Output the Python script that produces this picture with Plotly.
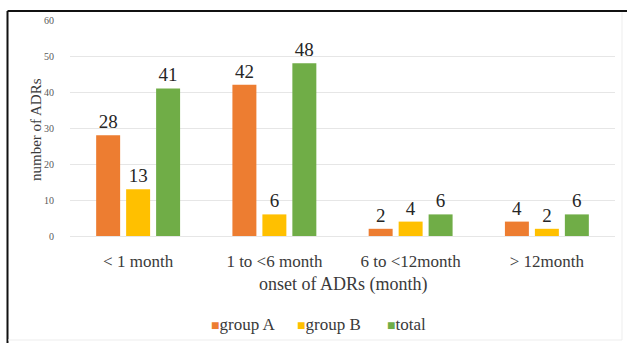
import plotly.graph_objects as go

# Onset of ADRs by time window
categories = ["< 1 month", "1 to <6 month", "6 to <12month", "> 12month"]
group_a = [28, 42, 2, 4]
group_b = [13, 6, 4, 2]
total = [41, 48, 6, 6]

series_names = ["group A", "group B", "total"]
series_colors = ["#ED7D31", "#FFC000", "#70AD47"]
series_values = [group_a, group_b, total]

serif = "Liberation Serif, Times New Roman, serif"
text_color = "#3A3A3A"

fig = go.Figure()
for name, vals, color in zip(series_names, series_values, series_colors):
    fig.add_trace(go.Bar(
        name=name,
        x=categories,
        y=vals,
        marker=dict(color=color, line=dict(width=0)),
        text=[str(v) for v in vals],
        textposition="outside",
        cliponaxis=False,
        textfont=dict(family=serif, size=19, color="#262626"),
        showlegend=False,
    ))

W, H = 627, 343
L, R, T, B = 70, 12, 20, 107
pw, ph = W - L - R, H - T - B


def px_x(x):
    return (x - L) / pw


def px_y(y):
    return (H - B - y) / ph


annotations = [
    dict(
        text="onset of ADRs (month)",
        xref="paper", yref="paper",
        x=px_x(343), y=px_y(284),
        xanchor="center", yanchor="middle",
        showarrow=False,
        font=dict(family=serif, size=18, color=text_color),
    ),
    dict(
        text="number of ADRs",
        xref="paper", yref="paper",
        x=px_x(36), y=px_y(130),
        xanchor="center", yanchor="middle",
        textangle=-90,
        showarrow=False,
        font=dict(family=serif, size=15, color=text_color),
    ),
]

# compact legend row: small coloured square followed by the series name
legend_left = [209, 295, 385]
for name, color, x0 in zip(series_names, series_colors, legend_left):
    annotations.append(dict(
        text=f"<span style='color:{color};font-size:14px'>■</span>{name}",
        xref="paper", yref="paper",
        x=px_x(x0), y=px_y(324),
        xanchor="left", yanchor="middle",
        showarrow=False,
        font=dict(family=serif, size=17, color=text_color),
    ))

fig.update_layout(
    width=W, height=H,
    margin=dict(l=L, r=R, t=T, b=B),
    paper_bgcolor="white",
    plot_bgcolor="white",
    barmode="group",
    bargap=0.34,
    bargroupgap=0.2,
    font=dict(family=serif, color=text_color),
    showlegend=False,
    xaxis=dict(
        showgrid=False,
        showline=False,
        ticks="",
        ticklabelstandoff=13,
        tickfont=dict(family=serif, size=17, color=text_color),
    ),
    yaxis=dict(
        range=[0, 60],
        dtick=10,
        showgrid=True,
        gridcolor="#E6E6E6",
        gridwidth=1,
        zeroline=True,
        zerolinecolor="#E6E6E6",
        zerolinewidth=1,
        showline=False,
        ticks="",
        ticklabelstandoff=15,
        tickfont=dict(family=serif, size=10, color="#595959"),
    ),
    annotations=annotations,
    shapes=[
        # outer frame: dark on top/left, faint on right/bottom
        dict(type="line", xref="paper", yref="paper",
             x0=px_x(7.5), x1=px_x(627), y0=px_y(11), y1=px_y(11),
             line=dict(color="#111111", width=2)),
        dict(type="line", xref="paper", yref="paper",
             x0=px_x(7.5), x1=px_x(7.5), y0=px_y(11), y1=px_y(350),
             line=dict(color="#111111", width=2)),
        dict(type="line", xref="paper", yref="paper",
             x0=px_x(622), x1=px_x(622), y0=px_y(12), y1=px_y(340),
             line=dict(color="#EDEDED", width=1)),
        dict(type="line", xref="paper", yref="paper",
             x0=px_x(8), x1=px_x(622), y0=px_y(340), y1=px_y(340),
             line=dict(color="#EDEDED", width=1)),
    ],
)

fig.write_html("out.html")
